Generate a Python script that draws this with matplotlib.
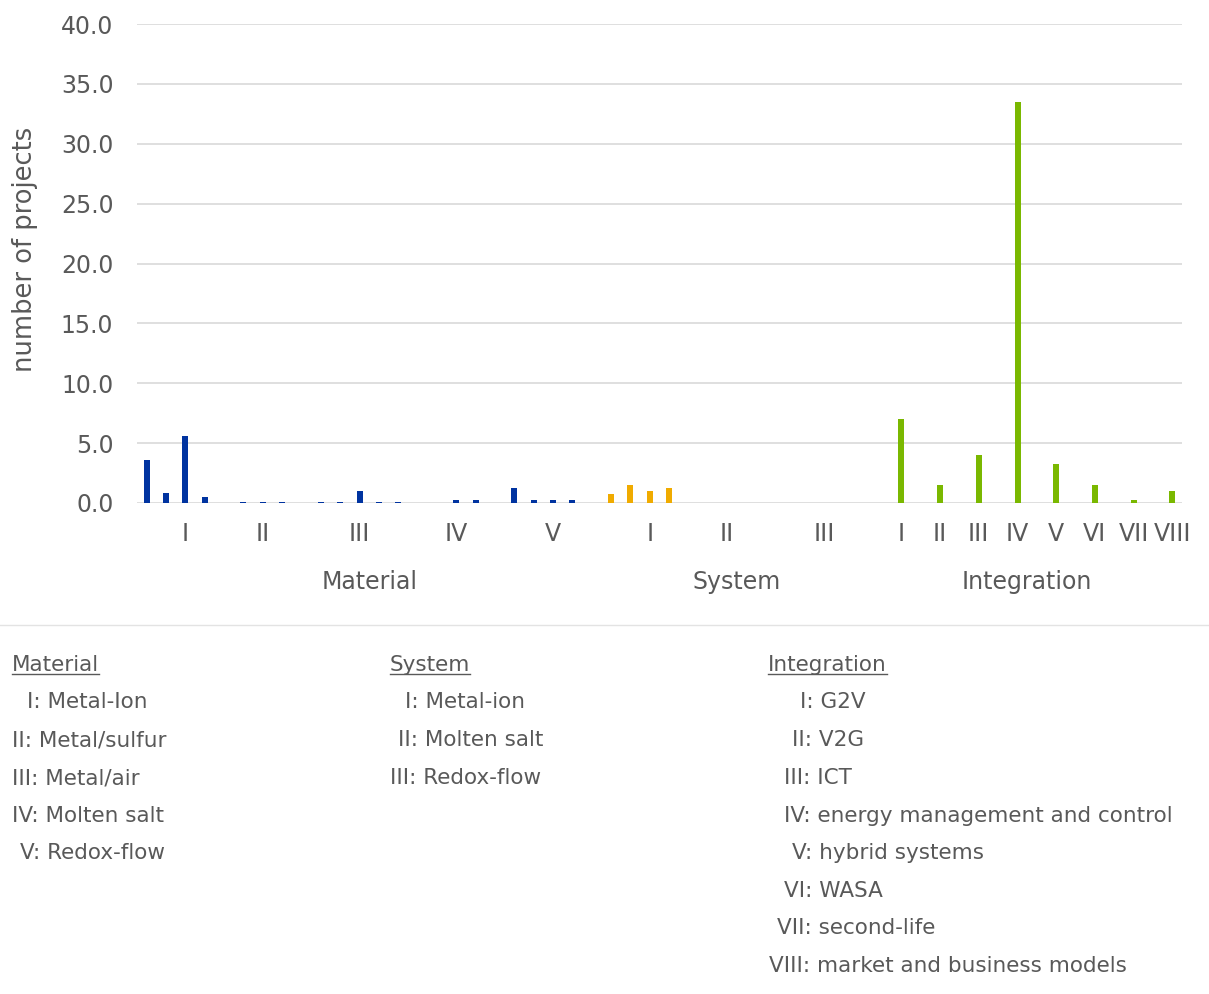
import matplotlib
matplotlib.use('Agg')
import matplotlib.pyplot as plt
from matplotlib.lines import Line2D

# leaf values per group (one slot per leaf category)
material = [3.6, 0.85, 5.6, 0.5, 0, 0.1, 0.1, 0.1, 0, 0.05, 0.05, 1.0, 0.05, 0.05,
            0, 0, 0.25, 0.25, 0, 1.25, 0.25, 0.25, 0.25, 0]
system = [0.75, 1.5, 1.0, 1.25, 0, 0, 0, 0, 0, 0, 0, 0, 0, 0]
integration = [0, 7.0, 0, 1.5, 0, 4.0, 0, 33.5, 0, 3.25, 0, 1.5, 0, 0.25, 0, 1.0]

material_labels = ['', '', 'I', '', '', '', 'II', '', '', '', '', 'III', '', '', '', '',
                   'IV', '', '', '', '', 'V', '', '']
system_labels = ['', '', 'I', '', '', '', 'II', '', '', '', '', 'III', '', '']
integration_labels = ['', 'I', '', 'II', '', 'III', '', 'IV', '', 'V', '', 'VI', '',
                      'VII', '', 'VIII']

groups = ['Material', 'System', 'Integration']
colors = ['#0033A0', '#F0AB00', '#7AB800']

legend_items = {
    'Material': ['I: Metal-Ion', 'II: Metal/sulfur', 'III: Metal/air',
                 'IV: Molten salt', 'V: Redox-flow'],
    'System': ['I: Metal-ion', 'II: Molten salt', 'III: Redox-flow'],
    'Integration': ['I: G2V', 'II: V2G', 'III: ICT', 'IV: energy management and control',
                    'V: hybrid systems', 'VI: WASA', 'VII: second-life',
                    'VIII: market and business models'],
}

txt = '#595959'
W, H = 1209, 994
fig = plt.figure(figsize=(W / 100, H / 100), dpi=100)
ax = fig.add_axes([137 / W, 1 - 503 / H, (1182 - 137) / W, (503 - 24) / H])

values = [material, system, integration]
labels = [material_labels, system_labels, integration_labels]
start = 0
ticks, ticklabels = [], []
for g, vals, labs, c in zip(groups, values, labels, colors):
    xs = list(range(start, start + len(vals)))
    ax.bar(xs, vals, width=0.31, color=c, zorder=3)
    for x, l in zip(xs, labs):
        if l:
            ticks.append(x)
            ticklabels.append(l)
    center = start + (len(vals) - 1) / 2
    ax.text(center, -0.165, g, transform=ax.get_xaxis_transform(), ha='center',
            va='center', fontsize=17, color=txt)
    start += len(vals)

ax.set_xlim(-0.5, start - 0.5)
ax.set_ylim(0, 40)
ax.set_yticks(range(0, 41, 5))
ax.set_yticklabels(['%.1f' % v for v in range(0, 41, 5)])
ax.set_xticks(ticks)
ax.set_xticklabels(ticklabels)
ax.tick_params(axis='both', length=0, labelsize=17, labelcolor=txt)
ax.tick_params(axis='y', pad=17)
ax.tick_params(axis='x', pad=14)
ax.grid(axis='y', color='#DCDCDC', linewidth=1.3, zorder=0)
for s in ax.spines.values():
    s.set_visible(False)

fig.text(25 / W, 1 - 249 / H, 'number of projects', rotation=90, ha='center',
         va='center', fontsize=18.5, color=txt)

# separator between chart and legend text
fig.add_artist(Line2D([0, 1], [1 - 625 / H, 1 - 625 / H], color='#E3E3E3', linewidth=1))

# legend text block
col_x = {'Material': 12, 'System': 390, 'Integration': 768}
item_x = {
    'Material': [27, 12, 12, 12, 20],
    'System': [405, 398, 390],
    'Integration': [800, 792, 784, 784, 792, 784, 777, 769],
}
row_base = [708, 746, 784, 822, 859, 897, 934, 972]
fig.canvas.draw()
renderer = fig.canvas.get_renderer()
for g in groups:
    t = fig.text(col_x[g] / W, 1 - 671 / H, g, ha='left', va='baseline', fontsize=15.5, color=txt)
    bb = t.get_window_extent(renderer).transformed(fig.transFigure.inverted())
    fig.add_artist(Line2D([bb.x0, bb.x1], [1 - 674 / H, 1 - 674 / H], color=txt, linewidth=1))
    for i, item in enumerate(legend_items[g]):
        fig.text(item_x[g][i] / W, 1 - row_base[i] / H, item, ha='left', va='baseline',
                 fontsize=15.5, color=txt)

fig.savefig('out.png', dpi=100)
